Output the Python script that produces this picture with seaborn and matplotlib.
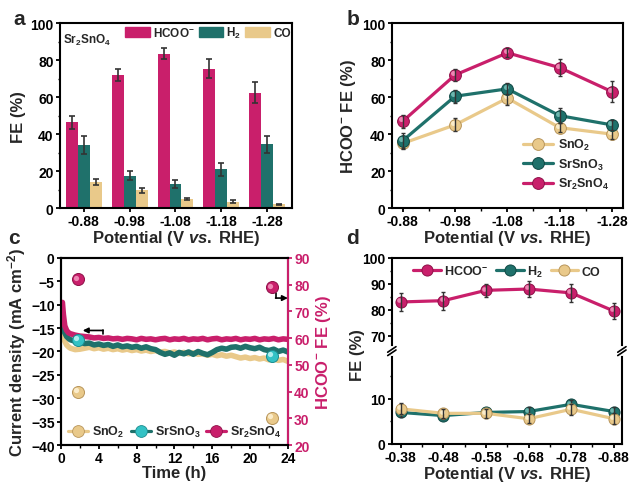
import numpy as np
import pandas as pd
import matplotlib
matplotlib.use('Agg')
import matplotlib.pyplot as plt
import seaborn as sns
from matplotlib.lines import Line2D
from matplotlib.patches import Patch
from matplotlib.transforms import ScaledTranslation
from matplotlib.ticker import MultipleLocator

# ---------------- data ----------------
# panel a
pot_a = ['-0.88', '-0.98', '-1.08', '-1.18', '-1.28']
a_hcoo = [46.5, 72.0, 83.5, 75.5, 62.5]
a_hcoo_err = [3.5, 3.0, 3.0, 5.0, 5.5]
a_h2 = [34.0, 17.5, 13.0, 21.0, 34.5]
a_h2_err = [5.0, 2.5, 2.0, 3.5, 4.5]
a_co = [14.0, 9.5, 5.0, 3.5, 2.0]
a_co_err = [1.5, 1.5, 0.7, 1.0, 0.3]

# panel b
pot_b = ['-0.88', '-0.98', '-1.08', '-1.18', '-1.28']
b_sno2 = [35.0, 45.0, 59.5, 43.5, 40.0]
b_sno2_err = [3.0, 3.5, 3.5, 2.5, 2.5]
b_srsno3 = [36.5, 60.5, 64.5, 50.0, 45.0]
b_srsno3_err = [4.0, 3.5, 3.0, 4.0, 2.5]
b_sr2sno4 = [47.0, 72.0, 84.0, 76.0, 63.0]
b_sr2sno4_err = [3.5, 3.0, 2.5, 4.5, 5.5]

# panel c (current density traces, read at 0.5 h steps)
t_c = [0.15, 0.25, 0.4, 0.6, 0.8, 1.0, 1.5, 2.0, 2.5, 3.0, 3.5, 4.0, 4.5, 5.0, 5.5,
       6.0, 6.5, 7.0, 7.5, 8.0, 8.5, 9.0, 9.5, 10.0, 10.5, 11.0, 11.5, 12.0, 12.5,
       13.0, 13.5, 14.0, 14.5, 15.0, 15.5, 16.0, 16.5, 17.0, 17.5, 18.0, 18.5, 19.0,
       19.5, 20.0, 20.5, 21.0, 21.5, 22.0, 22.5, 23.0, 23.5, 24.0]
j_sr2sno4 = [-9.5, -12.0, -14.5, -15.5, -16.0, -16.2, -16.5, -16.7, -16.8, -16.9, -17.1,
             -17.0, -17.2, -17.1, -17.3, -17.2, -17.4, -17.2, -17.3, -17.5, -17.2, -17.4,
             -17.3, -17.5, -17.3, -17.2, -17.5, -17.3, -17.4, -17.2, -17.5, -17.3, -17.4,
             -17.2, -17.5, -17.3, -17.2, -17.5, -17.3, -17.4, -17.2, -17.5, -17.3, -17.4,
             -17.2, -17.5, -17.3, -17.4, -17.2, -17.5, -17.3, -17.4]
j_srsno3 = [-14.0, -15.0, -16.0, -16.8, -17.2, -17.5, -17.8, -18.0, -18.3, -18.2, -18.6,
            -18.4, -18.7, -18.5, -18.9, -18.6, -19.0, -18.8, -19.1, -18.9, -19.3, -19.0,
            -19.4, -19.6, -20.2, -20.6, -20.3, -20.8, -20.2, -20.5, -20.1, -20.6, -20.0,
            -20.4, -20.7, -20.2, -19.6, -19.3, -19.5, -19.1, -19.0, -19.3, -18.9, -19.2,
            -19.4, -19.1, -19.6, -19.8, -19.5, -20.0, -19.7, -20.1]
j_sno2 = [-15.0, -16.5, -17.8, -18.6, -19.0, -19.3, -19.6, -19.5, -19.3, -19.1, -19.4,
          -19.2, -19.5, -19.3, -19.6, -19.4, -19.7, -19.5, -19.8, -19.6, -19.9, -19.7,
          -20.0, -19.8, -20.1, -20.0, -20.3, -20.1, -20.4, -20.2, -20.5, -20.3, -20.6,
          -20.5, -20.8, -20.6, -20.9, -20.7, -21.0, -20.8, -21.1, -21.4, -21.2, -21.5,
          -21.3, -21.6, -21.4, -21.8, -21.6, -21.9, -21.7, -22.1]
t_fe = [1.8, 22.3]
fe_sno2 = [40.0, 30.0]
fe_srsno3 = [59.4, 53.3]
fe_sr2sno4 = [82.0, 79.0]

# panel d
pot_d = ['-0.38', '-0.48', '-0.58', '-0.68', '-0.78', '-0.88']
d_hcoo = [83.0, 83.5, 87.5, 88.0, 86.5, 79.5]
d_hcoo_err = [3.5, 3.5, 2.5, 3.0, 3.5, 3.0]
d_h2 = [7.0, 6.3, 7.0, 7.2, 8.8, 7.2]
d_h2_err = [1.0, 0.8, 0.8, 1.0, 1.0, 1.0]
d_co = [7.8, 6.8, 6.8, 5.6, 7.7, 5.6]
d_co_err = [1.2, 1.0, 1.0, 1.0, 1.2, 1.2]

# ---------------- style ----------------
MAG, MAG_E, MAG_L = '#C91F6B', '#8E1048', '#F59AC2'
TEAL, TEAL_E, TEAL_L = '#1F716B', '#0F4743', '#7CC4BC'
TAN, TAN_E, TAN_L = '#E9C98A', '#B8955A', '#FFF3D6'
CYAN, CYAN_E, CYAN_L = '#33C2C5', '#1B8C8F', '#C6F6F6'
ERR = '#333333'

sns.set_style('ticks')
plt.rcParams.update({
    'font.family': ['Liberation Sans', 'DejaVu Sans'],
    'font.weight': 'bold',
    'axes.labelweight': 'bold',
    'mathtext.fontset': 'custom',
    'mathtext.rm': 'Liberation Sans:bold',
    'mathtext.it': 'Liberation Sans:italic:bold',
    'mathtext.bf': 'Liberation Sans:bold',
    'mathtext.default': 'rm',
    'axes.linewidth': 1.5,
    'axes.edgecolor': 'black',
    'xtick.color': 'black', 'ytick.color': 'black',
    'xtick.direction': 'out', 'ytick.direction': 'out',
    'xtick.major.width': 1.3, 'ytick.major.width': 1.3,
    'xtick.minor.width': 1.0, 'ytick.minor.width': 1.0,
    'xtick.major.size': 3.0, 'ytick.major.size': 3.0,
    'xtick.minor.size': 1.8, 'ytick.minor.size': 1.8,
    'xtick.labelsize': 10, 'ytick.labelsize': 10,
    'axes.labelsize': 12,
    'xtick.major.pad': 1.0, 'ytick.major.pad': 1.5,
})

fig = plt.figure(figsize=(6.32, 4.85), dpi=100)
ax_a = fig.add_axes([0.0949, 0.569, 0.367, 0.381])
ax_b = fig.add_axes([0.620, 0.569, 0.3655, 0.381])
ax_c = fig.add_axes([0.0965, 0.0804, 0.359, 0.3856])
ax_du = fig.add_axes([0.620, 0.274, 0.364, 0.192])
ax_dl = fig.add_axes([0.620, 0.0825, 0.364, 0.1915])

XLAB = 'Potential (V $\\mathit{vs.}$ RHE)'


def shine(ax, x, y, light, ms, z):
    tr = ax.transData + ScaledTranslation(-1.3 / 72, 1.3 / 72, fig.dpi_scale_trans)
    ax.plot(x, y, 'o', ms=ms * 0.42, color=light, alpha=0.85, mec='none',
            transform=tr, zorder=z)


# ---------------- panel a ----------------
df_a = pd.DataFrame({
    'Potential': pot_a * 3,
    'Product': ['HCOO'] * 5 + ['H2'] * 5 + ['CO'] * 5,
    'FE': a_hcoo + a_h2 + a_co,
})
sns.barplot(data=df_a, x='Potential', y='FE', hue='Product', order=pot_a,
            hue_order=['HCOO', 'H2', 'CO'], palette=[MAG, TEAL, TAN],
            errorbar=None, width=0.78, saturation=1, ax=ax_a, legend=False,
            edgecolor='none', linewidth=0)
for cont, errs in zip(ax_a.containers, [a_hcoo_err, a_h2_err, a_co_err]):
    xs = [p.get_x() + p.get_width() / 2 for p in cont]
    hs = [p.get_height() for p in cont]
    ax_a.errorbar(xs, hs, yerr=errs, fmt='none', ecolor=ERR, elinewidth=1.2,
                  capsize=2, capthick=1.2, zorder=5)
ax_a.set_xlim(-0.52, 4.54)
ax_a.set_ylim(0, 100)
ax_a.yaxis.set_major_locator(MultipleLocator(20))
ax_a.yaxis.set_minor_locator(MultipleLocator(10))
ax_a.set_xlabel(XLAB, labelpad=0)
ax_a.set_ylabel('FE (%)', labelpad=3)
ax_a.text(0.012, 0.955, 'Sr$_2$SnO$_4$', transform=ax_a.transAxes, fontsize=8.5,
          va='top', ha='left')
ax_a.legend(handles=[Patch(color=MAG, label='HCOO$^{-}$'),
                     Patch(color=TEAL, label='H$_2$'),
                     Patch(color=TAN, label='CO')],
            loc='upper right', bbox_to_anchor=(1.015, 1.015), ncol=3, frameon=False,
            fontsize=8.5, handlelength=2.1, handleheight=0.9, handletextpad=0.25,
            columnspacing=0.35, borderaxespad=0.2, borderpad=0.2)

# ---------------- panel b ----------------
x_b = np.arange(len(pot_b))
series_b = [(b_sno2, b_sno2_err, TAN, TAN_E, TAN_L, 'SnO$_2$'),
            (b_srsno3, b_srsno3_err, TEAL, TEAL_E, TEAL_L, 'SrSnO$_3$'),
            (b_sr2sno4, b_sr2sno4_err, MAG, MAG_E, MAG_L, 'Sr$_2$SnO$_4$')]
handles_b = []
for i, (vals, errs, col, edge, light, lab) in enumerate(series_b):
    z = 3 + i * 3
    sns.lineplot(x=x_b, y=vals, color=col, lw=2.3, marker='o', markersize=8.5,
                 markeredgecolor=edge, markeredgewidth=0.7, ax=ax_b, zorder=z)
    shine(ax_b, x_b, vals, light, 8.5, z + 0.5)
    ax_b.errorbar(x_b, vals, yerr=errs, fmt='none', ecolor=ERR, elinewidth=1.0,
                  capsize=1.5, capthick=1.0, zorder=z + 1)
    handles_b.append(Line2D([0], [0], color=col, lw=2.3, marker='o', ms=8.5,
                            mfc=col, mec=edge, mew=0.7, label=lab))
ax_b.set_xticks(x_b)
ax_b.set_xticklabels(pot_b)
ax_b.xaxis.set_minor_locator(MultipleLocator(0.5))
ax_b.set_xlim(-0.21, 4.21)
ax_b.set_ylim(0, 100)
ax_b.yaxis.set_major_locator(MultipleLocator(20))
ax_b.yaxis.set_minor_locator(MultipleLocator(10))
ax_b.set_xlabel(XLAB, labelpad=0)
ax_b.set_ylabel('HCOO$^{-}$ FE (%)', labelpad=3)
ax_b.legend(handles=handles_b, loc='lower right', bbox_to_anchor=(0.99, 0.03),
            frameon=False, fontsize=9, handlelength=2.4, handletextpad=0.4,
            labelspacing=0.35)

# ---------------- panel c ----------------
sns.lineplot(x=t_c, y=j_sno2, color=TAN, lw=4.0, ax=ax_c, zorder=2)
sns.lineplot(x=t_c, y=j_srsno3, color=TEAL, lw=4.0, ax=ax_c, zorder=3)
sns.lineplot(x=t_c, y=j_sr2sno4, color=MAG, lw=4.0, ax=ax_c, zorder=4)
ax_c.set_xlim(0, 24)
ax_c.set_ylim(-40, 0)
ax_c.xaxis.set_major_locator(MultipleLocator(4))
ax_c.xaxis.set_minor_locator(MultipleLocator(2))
ax_c.yaxis.set_major_locator(MultipleLocator(5))
ax_c.set_xlabel('Time (h)', labelpad=0)
ax_c.set_ylabel('Current density (mA cm$^{-2}$)', labelpad=2)
ax_c.plot([4.4, 4.4], [-16.2, -15.5], color='black', lw=1.2, zorder=6)
ax_c.annotate('', xy=(2.3, -15.5), xytext=(4.45, -15.5),
              arrowprops=dict(arrowstyle='-|>', color='black', lw=1.2,
                              mutation_scale=8, shrinkA=0, shrinkB=0), zorder=6)

ax_c2 = ax_c.twinx()
ax_c2.set_ylim(20, 90)
ax_c2.yaxis.set_major_locator(MultipleLocator(10))
for (vals, col, edge, light) in [(fe_sno2, TAN, TAN_E, TAN_L),
                                 (fe_srsno3, CYAN, CYAN_E, CYAN_L),
                                 (fe_sr2sno4, MAG, MAG_E, MAG_L)]:
    sns.scatterplot(x=t_fe, y=vals, color=col, s=75, edgecolor=edge, linewidth=0.7,
                    ax=ax_c2, zorder=7)
    shine(ax_c2, t_fe, vals, light, 9, 8)
ax_c2.spines['right'].set_color(MAG)
ax_c2.spines['right'].set_linewidth(1.5)
ax_c2.tick_params(axis='y', colors=MAG, labelcolor=MAG)
ax_c2.set_ylabel('HCOO$^{-}$ FE (%)', color=MAG, labelpad=3)
ax_c2.plot([22.75, 22.75], [77.0, 75.0], color='black', lw=1.2, zorder=6)
ax_c2.annotate('', xy=(24.0, 75.0), xytext=(22.7, 75.0),
               arrowprops=dict(arrowstyle='-|>', color='black', lw=1.2,
                               mutation_scale=8, shrinkA=0, shrinkB=0), zorder=6)
handles_c = [Line2D([0], [0], color=TAN, lw=2.3, marker='o', ms=8.5, mfc=TAN,
                    mec=TAN_E, mew=0.6, label='SnO$_2$'),
             Line2D([0], [0], color=TEAL, lw=2.3, marker='o', ms=8.5, mfc=CYAN,
                    mec=CYAN_E, mew=0.6, label='SrSnO$_3$'),
             Line2D([0], [0], color=MAG, lw=2.3, marker='o', ms=8.5, mfc=MAG,
                    mec=MAG_E, mew=0.6, label='Sr$_2$SnO$_4$')]
ax_c2.legend(handles=handles_c, loc='lower left', bbox_to_anchor=(0.0, -0.01), ncol=3,
             frameon=False, fontsize=9, handlelength=1.6, handletextpad=0.3,
             columnspacing=0.5, borderaxespad=0.2)

# ---------------- panel d ----------------
x_d = np.arange(len(pot_d))
series_d = [(d_h2, d_h2_err, TEAL, TEAL_E, TEAL_L, 'H$_2$'),
            (d_co, d_co_err, TAN, TAN_E, TAN_L, 'CO'),
            (d_hcoo, d_hcoo_err, MAG, MAG_E, MAG_L, 'HCOO$^{-}$')]
for ax in (ax_du, ax_dl):
    for i, (vals, errs, col, edge, light, lab) in enumerate(series_d):
        z = 3 + i * 3
        sns.lineplot(x=x_d, y=vals, color=col, lw=2.3, marker='o', markersize=8,
                     markeredgecolor=edge, markeredgewidth=0.7, ax=ax, zorder=z)
        shine(ax, x_d, vals, light, 8, z + 0.5)
        ax.errorbar(x_d, vals, yerr=errs, fmt='none', ecolor=ERR, elinewidth=1.0,
                    capsize=1.5, capthick=1.0, zorder=z + 1)
    ax.set_xlim(-0.21, 5.19)
    ax.set_xticks(x_d)
    ax.xaxis.set_minor_locator(MultipleLocator(0.5))
    ax.set_ylabel('')

ax_du.set_ylim(64, 100)
ax_du.set_yticks([70, 80, 90, 100])
ax_du.yaxis.set_minor_locator(MultipleLocator(5))
ax_du.spines['bottom'].set_visible(False)
ax_du.tick_params(axis='x', which='both', bottom=False, labelbottom=False)
ax_du.set_xlabel('')

ax_dl.set_ylim(0, 20.6)
ax_dl.set_yticks([0, 10])
ax_dl.yaxis.set_minor_locator(MultipleLocator(5))
ax_dl.spines['top'].set_visible(False)
ax_dl.set_xticklabels(pot_d)
ax_dl.set_xlabel(XLAB, labelpad=0)

# break marks
for xa in (0.0, 1.0):
    ax_dl.plot([xa, xa], [0.97, 1.03], transform=ax_dl.transAxes, color='white',
               lw=3, clip_on=False, zorder=20)
    for dy in (-0.018, 0.018):
        ax_dl.plot([xa - 0.018, xa + 0.018], [1 + dy - 0.03, 1 + dy + 0.03],
                   transform=ax_dl.transAxes, color='black', lw=1.2,
                   clip_on=False, zorder=21)

handles_d = [Line2D([0], [0], color=MAG, lw=2.3, marker='o', ms=8, mfc=MAG,
                    mec=MAG_E, mew=0.7, label='HCOO$^{-}$'),
             Line2D([0], [0], color=TEAL, lw=2.3, marker='o', ms=8, mfc=TEAL,
                    mec=TEAL_E, mew=0.7, label='H$_2$'),
             Line2D([0], [0], color=TAN, lw=2.3, marker='o', ms=8, mfc=TAN,
                    mec=TAN_E, mew=0.7, label='CO')]
ax_du.legend(handles=handles_d, loc='upper center', bbox_to_anchor=(0.5, 1.02), ncol=3,
             frameon=False, fontsize=9, handlelength=2.2, handletextpad=0.3,
             columnspacing=0.6, borderaxespad=0.2)
fig.text(0.566, 0.268, 'FE (%)', rotation=90, va='center', ha='center',
         fontsize=12, fontweight='bold')

# panel letters
for lab, x, y in [('a', 0.030, 0.959), ('b', 0.559, 0.959),
                  ('c', 0.022, 0.509), ('d', 0.557, 0.509)]:
    fig.text(x, y, lab, fontsize=15, fontweight='bold', ha='center', va='center')

fig.savefig('out.png', dpi=100)
